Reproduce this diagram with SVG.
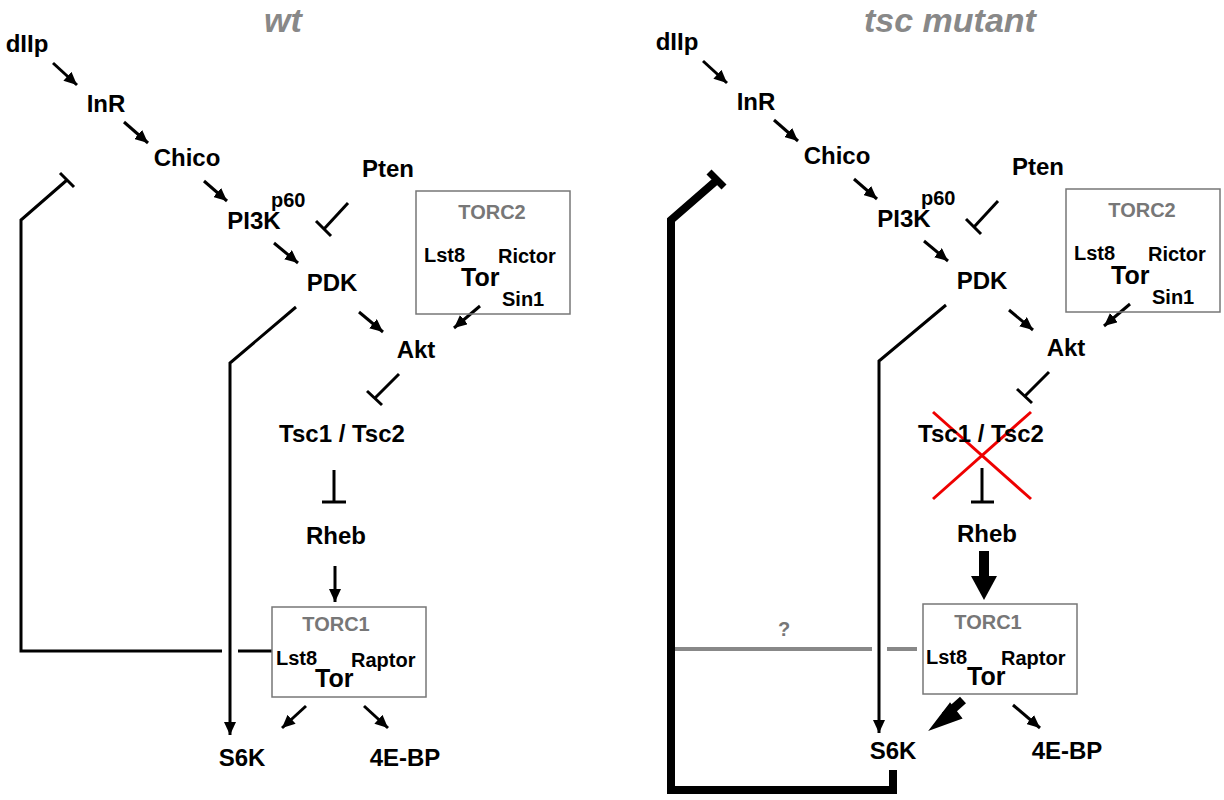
<svg xmlns="http://www.w3.org/2000/svg" width="1224" height="800" viewBox="0 0 1224 800">
<defs>
<style>
text{font-family:"Liberation Sans",Arial,sans-serif;font-weight:bold;fill:#000}
.n{font-size:24px;text-anchor:middle}
.s{font-size:20px}
.t{font-size:25px}
.g{fill:#777;font-size:20px;text-anchor:middle}
.title{fill:#888;font-size:34px;font-style:italic;text-anchor:middle}
.box{fill:none;stroke:#777;stroke-width:1.5}
.c{fill:none;stroke:#000;stroke-width:3}
.a{fill:none;stroke:#000;stroke-width:3;marker-end:url(#ah)}
.fb{fill:none;stroke:#000;stroke-width:3}
.fbt{fill:none;stroke:#000;stroke-width:8}
.q{fill:none;stroke:#888;stroke-width:4}
.x{stroke:#e00;stroke-width:3}
</style>
<marker id="ah" markerUnits="userSpaceOnUse" markerWidth="14" markerHeight="12" refX="13" refY="6" orient="auto"><path d="M0,0 L13,6 L0,12 z" fill="#000"/></marker>
</defs>
<text class="title" x="283" y="32">wt</text>
<text class="title" x="950" y="32">tsc mutant</text>
<g id="connectors">
<line class="a" x1="53" y1="63" x2="77" y2="85"/>
<line class="a" x1="124" y1="122" x2="148" y2="143"/>
<line class="a" x1="204" y1="181" x2="227" y2="201"/>
<line class="c" x1="348" y1="203" x2="324" y2="229"/><line class="c" x1="316" y1="221" x2="331" y2="236"/>
<line class="a" x1="274" y1="243" x2="298" y2="263"/>
<line class="a" x1="359" y1="312" x2="383" y2="332"/>
<line class="a" x1="480" y1="306" x2="454" y2="328"/>
<line class="c" x1="399" y1="374" x2="375" y2="398"/><line class="c" x1="367" y1="391" x2="382" y2="405"/>
<line class="c" x1="334" y1="470" x2="334" y2="502"/><line class="c" x1="322" y1="502" x2="346" y2="502"/>
<line class="a" x1="335" y1="566" x2="335" y2="602"/>
<polyline class="a" points="296,307 230,363 230,735"/>
<polyline class="fb" points="67,180 21,220 21,651 222,651"/><line class="c" x1="60" y1="173" x2="74" y2="187"/>
<line class="fb" x1="238" y1="651" x2="272" y2="651"/>
<line class="a" x1="306" y1="706" x2="282" y2="728"/>
<line class="a" x1="364" y1="706" x2="388" y2="728"/>
<line class="a" x1="703" y1="61" x2="727" y2="83"/>
<line class="a" x1="774" y1="120" x2="798" y2="141"/>
<line class="a" x1="854" y1="179" x2="877" y2="199"/>
<line class="c" x1="998" y1="201" x2="974" y2="227"/><line class="c" x1="966" y1="219" x2="981" y2="234"/>
<line class="a" x1="924" y1="241" x2="948" y2="261"/>
<line class="a" x1="1009" y1="310" x2="1033" y2="330"/>
<line class="a" x1="1130" y1="304" x2="1104" y2="326"/>
<line class="c" x1="1049" y1="372" x2="1025" y2="396"/><line class="c" x1="1017" y1="389" x2="1032" y2="403"/>
<line class="c" x1="982" y1="468" x2="982" y2="502"/><line class="c" x1="971" y1="502" x2="994" y2="502"/>
<line stroke="#000" stroke-width="10" x1="984" y1="551" x2="984" y2="578"/><path d="M971,576 L997,576 L984,600 z" fill="#000"/>
<polyline class="a" points="946,305 879,361 879,733"/>
<polyline class="fbt" points="717,180 671,220 671,790 893,790 893,770"/><line stroke="#000" stroke-width="7" x1="709" y1="172" x2="724" y2="187"/>
<line class="q" x1="675" y1="649" x2="872" y2="649"/><line class="q" x1="887" y1="649" x2="917" y2="649"/>
<line stroke="#000" stroke-width="9" x1="963" y1="700" x2="945" y2="716"/><path d="M950,704 L931,729 L961,718 z" fill="#000" stroke="#000" stroke-width="2"/>
<line class="a" x1="1013" y1="705" x2="1040" y2="728"/>
<line class="x" x1="933" y1="412" x2="1031" y2="499"/><line class="x" x1="1031" y1="412" x2="933" y2="499"/>
</g>
<g id="left-dIIp"><text class="n" x="27" y="52">dIIp</text></g>
<g id="left-InR"><text class="n" x="106" y="112">InR</text></g>
<g id="left-Chico"><text class="n" x="187" y="166">Chico</text></g>
<g id="left-Pten"><text class="n" x="388" y="177">Pten</text></g>
<g id="left-PI3K"><text class="n" x="254" y="229">PI3K</text><text class="s" x="271" y="207">p60</text></g>
<g id="left-PDK"><text class="n" x="332" y="291">PDK</text></g>
<g id="left-TORC2"><rect class="box" x="416" y="191" width="154" height="123"/><text class="g" x="492" y="219">TORC2</text><text class="s" x="424" y="262">Lst8</text><text class="s" x="498" y="263">Rictor</text><text class="t" x="461" y="286">Tor</text><text class="s" x="502" y="306">Sin1</text></g>
<g id="left-Akt"><text class="n" x="416" y="358">Akt</text></g>
<g id="left-Tsc"><text class="n" x="342" y="442">Tsc1 / Tsc2</text></g>
<g id="left-Rheb"><text class="n" x="336" y="544">Rheb</text></g>
<g id="left-TORC1"><rect class="box" x="272" y="607" width="154" height="90"/><text class="g" x="336" y="631">TORC1</text><text class="s" x="276" y="665">Lst8</text><text class="s" x="351" y="667">Raptor</text><text class="t" x="315" y="687">Tor</text></g>
<g id="left-S6K"><text class="n" x="242" y="766">S6K</text></g>
<g id="left-4EBP"><text class="n" x="405" y="766">4E-BP</text></g>
<g id="right-dIIp"><text class="n" x="677" y="50">dIIp</text></g>
<g id="right-InR"><text class="n" x="756" y="110">InR</text></g>
<g id="right-Chico"><text class="n" x="837" y="164">Chico</text></g>
<g id="right-Pten"><text class="n" x="1038" y="175">Pten</text></g>
<g id="right-PI3K"><text class="n" x="904" y="227">PI3K</text><text class="s" x="921" y="205">p60</text></g>
<g id="right-PDK"><text class="n" x="982" y="289">PDK</text></g>
<g id="right-TORC2"><rect class="box" x="1066" y="189" width="154" height="123"/><text class="g" x="1142" y="217">TORC2</text><text class="s" x="1074" y="260">Lst8</text><text class="s" x="1148" y="261">Rictor</text><text class="t" x="1111" y="284">Tor</text><text class="s" x="1152" y="304">Sin1</text></g>
<g id="right-Akt"><text class="n" x="1066" y="356">Akt</text></g>
<g id="right-Tsc"><text class="n" x="981" y="442">Tsc1 / Tsc2</text></g>
<g id="right-Rheb"><text class="n" x="987" y="542">Rheb</text></g>
<g id="right-TORC1"><rect class="box" x="923" y="604" width="154" height="90"/><text class="g" x="988" y="629">TORC1</text><text class="s" x="926" y="664">Lst8</text><text class="s" x="1001" y="665">Raptor</text><text class="t" x="967" y="685">Tor</text><text class="g" x="784" y="636">?</text></g>
<g id="right-S6K"><text class="n" x="893" y="759">S6K</text></g>
<g id="right-4EBP"><text class="n" x="1067" y="759">4E-BP</text></g>
</svg>
